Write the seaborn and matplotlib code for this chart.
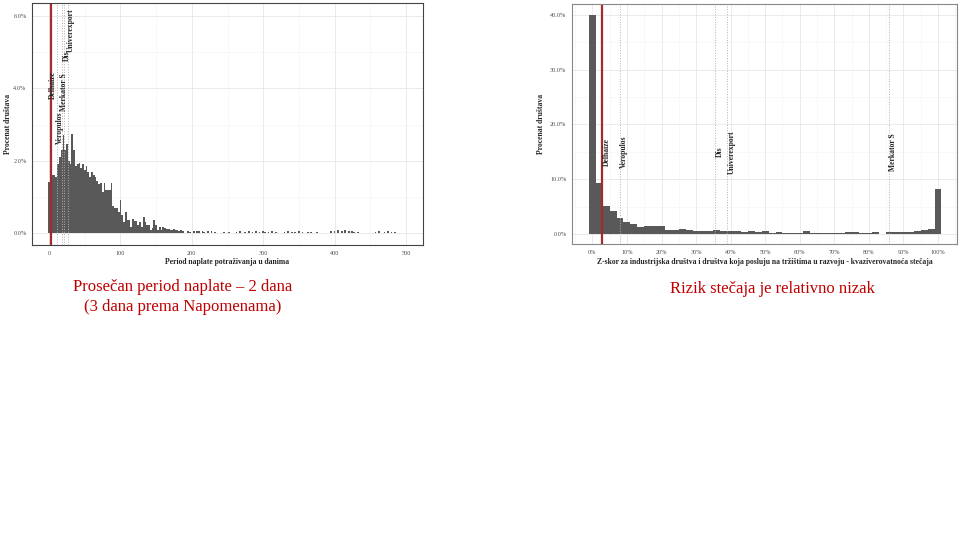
import numpy as np
import pandas as pd
import seaborn as sns
import matplotlib.pyplot as plt
from matplotlib.ticker import FuncFormatter, MultipleLocator

sns.set_style("white")
plt.rcParams['font.family'] = ['Liberation Serif', 'DejaVu Serif']

# --- period naplate potrazivanja (dani), bins of 2.5 days ---
dso_pct = [1.42, 1.75, 1.6, 1.6, 1.55, 1.9, 2.1, 2.3, 2.7, 2.3,
           2.45, 2.0, 1.9, 2.75, 2.3, 1.85, 1.9, 1.95, 1.8, 1.9,
           1.75, 1.85, 1.7, 1.55, 1.7, 1.6, 1.55, 1.45, 1.35, 1.4,
           1.15, 1.38, 1.2, 1.2, 1.2, 1.38, 0.75, 0.7, 0.7, 0.6,
           0.92, 0.5, 0.32, 0.6, 0.37, 0.37, 0.18, 0.41, 0.35, 0.35,
           0.23, 0.32, 0.18, 0.46, 0.32, 0.23, 0.23, 0.09, 0.14, 0.37,
           0.23, 0.09, 0.18, 0.09, 0.18, 0.14, 0.11, 0.11]
dso_days = np.arange(len(dso_pct)) * 2.5
tail_days = [170, 172.5, 175, 177.5, 180, 182.5, 185, 187.5, 195, 197.5,
             202.5, 207.5, 210, 215, 217.5, 222.5, 227.5, 232.5, 245, 252.5,
             262.5, 267.5, 275, 280, 285, 290, 295, 300, 302.5, 307.5,
             312.5, 317.5, 330, 335, 340, 345, 350, 355, 362.5, 367.5,
             375, 395, 400, 405, 410, 415, 420, 425, 427.5, 432.5,
             457.5, 462.5, 470, 475, 480, 485]
tail_pct = [0.09, 0.08, 0.12, 0.09, 0.09, 0.07, 0.09, 0.06, 0.06, 0.05,
            0.06, 0.06, 0.07, 0.06, 0.05, 0.06, 0.06, 0.05, 0.05, 0.05,
            0.05, 0.06, 0.05, 0.06, 0.05, 0.06, 0.05, 0.06, 0.05, 0.05,
            0.06, 0.05, 0.05, 0.06, 0.05, 0.05, 0.06, 0.05, 0.05, 0.05,
            0.05, 0.06, 0.06, 0.08, 0.07, 0.08, 0.06, 0.07, 0.05, 0.05,
            0.05, 0.06, 0.05, 0.06, 0.05, 0.05]
dso_company = 2
dso_peers = ['Delhaize', 'Veropulos', 'Merkator S', 'Dis', 'Univerexport']
dso_peer_days = [2, 11.6, 17.8, 21, 27]
dso_peer_label_y = [4.1, 2.9, 3.9, 4.9, 5.6]

# --- Z-skor, bins of 2% ---
z_centers = np.arange(0, 101, 2)
z_pct = [40.0, 9.3, 5.2, 4.15, 2.9, 2.1, 1.8, 1.2, 1.5, 1.4,
         1.4, 0.7, 0.7, 0.85, 0.75, 0.6, 0.6, 0.6, 0.75, 0.6,
         0.5, 0.5, 0.4, 0.5, 0.4, 0.6, 0.25, 0.35, 0.2, 0.2,
         0.2, 0.6, 0.2, 0.2, 0.2, 0.2, 0.2, 0.35, 0.35, 0.2,
         0.2, 0.35, 0.05, 0.3, 0.3, 0.3, 0.3, 0.6, 0.8, 0.9,
         8.2]
z_company = 2.8
z_peers = ['Delhaize', 'Veropulos', 'Dis', 'Univerexport', 'Merkator S']
z_peer_vals = [2.8, 7.9, 35.5, 38.9, 85.8]
z_label_y = 15

bar_col = '#595959'
red = '#a52a2a'
caption_red = '#c00000'

dso = pd.DataFrame({'dani': np.concatenate([dso_days, tail_days]),
                    'pct': np.concatenate([dso_pct, tail_pct])})
zs = pd.DataFrame({'z': z_centers, 'pct': z_pct})

fig = plt.figure(figsize=(9.6, 5.4), dpi=100)
ax1 = fig.add_axes([32 / 960, 1 - 245 / 540, 391 / 960, 242 / 540])
ax2 = fig.add_axes([572 / 960, 1 - 244 / 540, 385 / 960, 240 / 540])


def style(ax, border):
    ax.set_axisbelow(True)
    ax.grid(which='major', color='#e6e6e6', lw=0.6)
    ax.grid(which='minor', color='#f3f3f3', lw=0.4)
    for s in ax.spines.values():
        s.set_color(border)
        s.set_linewidth(0.8)
    ax.tick_params(which='major', labelsize=4.5, labelcolor='#4d4d4d',
                   length=2, width=0.5, color='#777777', pad=2)
    ax.tick_params(which='minor', length=0)


# left chart
sns.histplot(data=dso, x='dani', weights='pct', binwidth=2.5, binrange=(-1.25, 501.25),
             color=bar_col, linewidth=0, alpha=1, ax=ax1)
ax1.set_xlim(-24, 524)
ax1.set_ylim(-0.32, 6.35)
ax1.xaxis.set_major_locator(MultipleLocator(100))
ax1.xaxis.set_minor_locator(MultipleLocator(50))
ax1.yaxis.set_major_locator(MultipleLocator(2))
ax1.yaxis.set_minor_locator(MultipleLocator(1))
ax1.yaxis.set_major_formatter(FuncFormatter(lambda v, p: f'{v:.1f}%'))
style(ax1, '#444444')
for name, d, ly in zip(dso_peers, dso_peer_days, dso_peer_label_y):
    ax1.axvline(d, color='#b0b0b0', lw=0.7, ls=':')
    ax1.text(d + 3.5, ly, name, rotation=90, ha='center', va='center',
             fontsize=5.5, fontweight='bold')
ax1.axvline(dso_company, color=red, lw=1.6)
ax1.set_xlabel('Period naplate potraživanja u danima', fontsize=5.5, fontweight='bold')
ax1.set_ylabel('Procenat društava', fontsize=5.5, fontweight='bold')
ax1.xaxis.set_label_coords(0.5, -0.055)
ax1.yaxis.set_label_coords(-0.05, 0.5)

# right chart
sns.histplot(data=zs, x='z', weights='pct', binwidth=2, binrange=(-1, 101),
             color=bar_col, linewidth=0, alpha=1, ax=ax2)
ax2.set_xlim(-5.9, 105.5)
ax2.set_ylim(-1.83, 42.0)
ax2.xaxis.set_major_locator(MultipleLocator(10))
ax2.xaxis.set_minor_locator(MultipleLocator(5))
ax2.yaxis.set_major_locator(MultipleLocator(10))
ax2.yaxis.set_minor_locator(MultipleLocator(5))
ax2.xaxis.set_major_formatter(FuncFormatter(lambda v, p: f'{v:.0f}%'))
ax2.yaxis.set_major_formatter(FuncFormatter(lambda v, p: f'{v:.1f}%'))
style(ax2, '#888888')
for name, v in zip(z_peers, z_peer_vals):
    ax2.axvline(v, color='#b0b0b0', lw=0.7, ls=':')
    ax2.text(v + 1.3, z_label_y, name, rotation=90, ha='center', va='center',
             fontsize=5.5, fontweight='bold')
ax2.axvline(z_company, color=red, lw=1.6)
ax2.set_xlabel('Z-skor za industrijska društva i društva koja posluju na tržištima u razvoju - kvaziverovatnoća stečaja',
               fontsize=5.5, fontweight='bold')
ax2.set_ylabel('Procenat društava', fontsize=5.5, fontweight='bold')
ax2.xaxis.set_label_coords(0.5, -0.06)
ax2.yaxis.set_label_coords(-0.07, 0.5)

# captions
fig.text(183 / 960, 1 - 287 / 540, 'Prosečan period naplate – 2 dana', color=caption_red,
         fontsize=12, ha='center', va='center')
fig.text(183 / 960, 1 - 307 / 540, '(3 dana prema Napomenama)', color=caption_red,
         fontsize=12, ha='center', va='center')
fig.text(772 / 960, 1 - 289 / 540, 'Rizik stečaja je relativno nizak', color=caption_red,
         fontsize=12, ha='center', va='center')

fig.savefig('out.png', dpi=100)
